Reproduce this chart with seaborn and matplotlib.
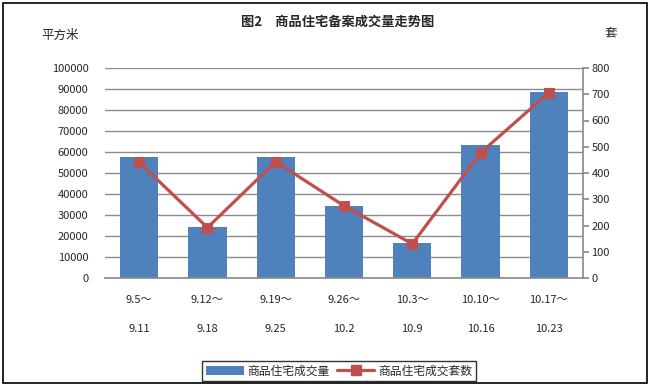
import matplotlib
matplotlib.use("Agg")
import matplotlib.pyplot as plt
import seaborn as sns
import pandas as pd
from matplotlib.patches import Rectangle
from matplotlib.lines import Line2D
from matplotlib.patches import Patch

sns.set_theme(style="white")
plt.rcParams['font.family'] = ['Noto Sans CJK SC', 'DejaVu Sans']

periods = ["9.5～\n9.11", "9.12～\n9.18", "9.19～\n9.25", "9.26～\n10.2",
           "10.3～\n10.9", "10.10～\n10.16", "10.17～\n10.23"]
area = [57600, 24300, 57600, 34300, 16800, 63300, 88600]
units = [441, 192, 443, 275, 130, 477, 706]
left_ticks = [0, 10000, 20000, 30000, 40000, 50000, 60000, 70000, 80000, 90000, 100000]
right_ticks = [0, 100, 200, 300, 400, 500, 600, 700, 800]

df = pd.DataFrame({"period": periods, "area": area, "units": units})

BAR = "#4F81BD"
LINE = "#C0504D"

fig = plt.figure(figsize=(6.51, 3.89), dpi=100)
W, H = 651, 389
ax = fig.add_axes([105 / W, 1 - 278 / H, (583 - 105) / W, (278 - 68) / H])

sns.barplot(data=df, x="period", y="area", color=BAR, width=0.56, ax=ax,
            saturation=1, edgecolor="none")
ax.set_ylim(0, 100000)
ax.set_yticks(left_ticks)
ax.set_yticklabels([str(v) for v in left_ticks], fontsize=8)
ax.grid(axis="y", color="#8c8c8c", linewidth=1)
ax.set_axisbelow(True)
for s in ["left", "top", "right"]:
    ax.spines[s].set_visible(False)
ax.spines["bottom"].set_color("#8c8c8c")
ax.set_xlabel("")
ax.set_ylabel("")
ax.tick_params(axis="x", length=0, pad=12)
ax.tick_params(axis="y", length=0, pad=12)
for lab in ax.get_xticklabels():
    lab.set_fontsize(8)
    lab.set_linespacing(3.4)
ax.set_xlim(-0.5, 6.5)

ax2 = ax.twinx()
sns.lineplot(data=df, x="period", y="units", color=LINE, linewidth=2.3,
             marker="s", markersize=7, markeredgecolor=LINE, ax=ax2, sort=False)
ax2.set_ylim(0, 800)
ax2.set_yticks(right_ticks)
ax2.set_yticklabels([str(v) for v in right_ticks], fontsize=8)
ax2.set_ylabel("")
ax2.set_xlabel("")
for s in ["left", "top", "bottom"]:
    ax2.spines[s].set_visible(False)
ax2.spines["right"].set_color("#8c8c8c")
ax2.tick_params(axis="y", length=4, color="#8c8c8c", direction="out", pad=2)
ax.set_xlim(-0.5, 6.5)

fig.text(338 / W, 1 - 22 / H, "图2　商品住宅备案成交量走势图", ha="center", va="center",
         fontsize=9.5, fontweight="bold")
fig.text(60 / W, 1 - 35 / H, "平方米", ha="center", va="center", fontsize=9)
fig.text(611 / W, 1 - 33 / H, "套", ha="center", va="center", fontsize=9)

handles = [Patch(facecolor=BAR, edgecolor="none"),
           Line2D([0], [0], color=LINE, linewidth=2.3, marker="s", markersize=7)]
leg = fig.legend(handles, ["商品住宅成交量", "商品住宅成交套数"], loc="center",
                 bbox_to_anchor=(339 / W, 1 - 371 / H), ncol=2, fontsize=8.5,
                 frameon=True, fancybox=False, edgecolor="black", handlelength=3.2,
                 handletextpad=0.3, columnspacing=0.6, borderpad=0.3)
leg.get_frame().set_linewidth(1)

fig.patches.append(Rectangle((3 / W, 1 - 383 / H), 644 / W, 380 / H,
                             transform=fig.transFigure, fill=False,
                             edgecolor="black", linewidth=1.2))

fig.savefig("out.png", dpi=100)
